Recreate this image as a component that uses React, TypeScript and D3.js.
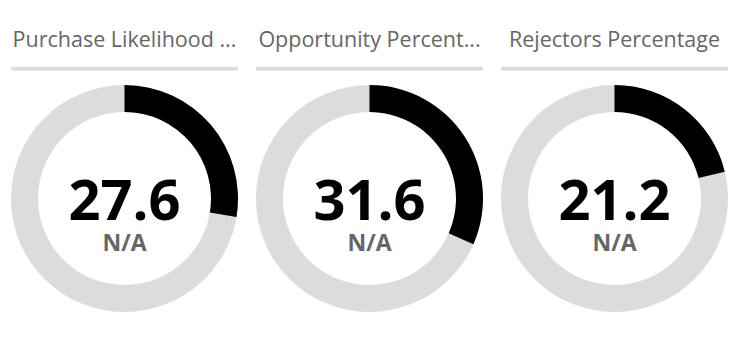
import React from "react";
import * as d3 from "d3";

const titles = ["Purchase Likelihood ...", "Opportunity Percent...", "Rejectors Percentage"];
const values = [27.6, 31.6, 21.2];
const subLabels = ["N/A", "N/A", "N/A"];
const maxValue = 100;

const W = 754;
const H = 346;

export default function App() {
  const x = d3.scaleBand<number>().domain(d3.range(values.length)).range([11, 728]).paddingInner(18 / 245).paddingOuter(0);
  const angle = d3.scaleLinear().domain([0, maxValue]).range([0, 2 * Math.PI]);
  const outerR = 113.5;
  const innerR = 86.5;
  const arcGen = d3.arc<any>().innerRadius(innerR).outerRadius(outerR);
  const cy = 198.5;
  const font = "'Open Sans', sans-serif";
  return (
    <svg width={W} height={H} style={{ position: "absolute", left: 0, top: 0, background: "#fff" }}>
      {values.map((v, i) => {
        const x0 = x(i) as number;
        const cx = x0 + x.bandwidth() / 2;
        return (
          <g key={i}>
            <text x={cx} y={46.5} textAnchor="middle" fontFamily={font} fontSize={21.5} fill="#666">
              {titles[i]}
            </text>
            <rect x={x0} y={66.8} width={x.bandwidth()} height={3.8} fill="#dcdcdc" />
            <g transform={`translate(${cx},${cy})`}>
              <path d={arcGen({ startAngle: 0, endAngle: 2 * Math.PI }) as string} fill="#dcdcdc" />
              <path d={arcGen({ startAngle: 0, endAngle: angle(v) }) as string} fill="#000" />
              <text y={21.5} textAnchor="middle" fontFamily={font} fontWeight={700} fontSize={56} fill="#000">
                {v.toFixed(1)}
              </text>
              <text y={52} textAnchor="middle" fontFamily={font} fontWeight={700} fontSize={23} fill="#666">
                {subLabels[i]}
              </text>
            </g>
          </g>
        );
      })}
    </svg>
  );
}
